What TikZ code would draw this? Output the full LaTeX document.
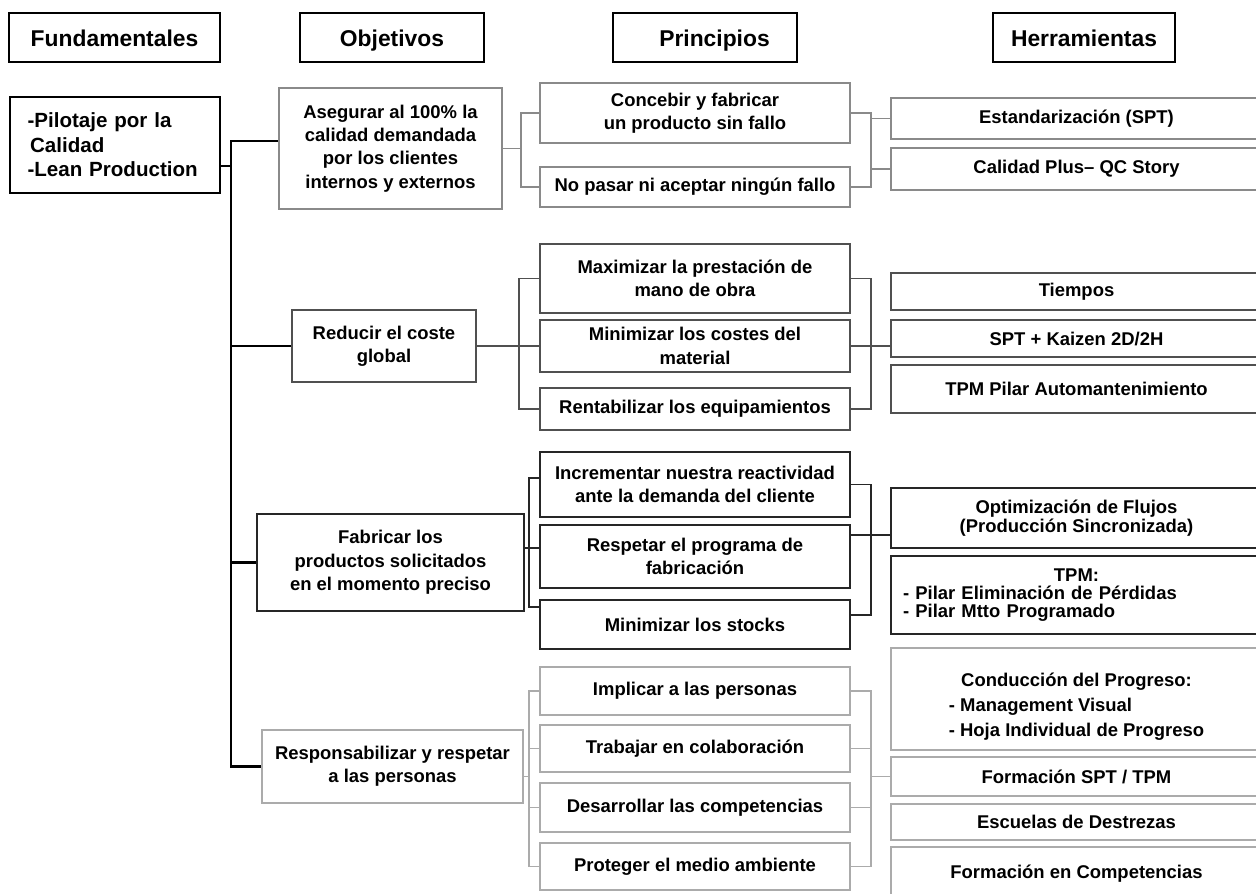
\documentclass[tikz,border=0pt]{standalone}
\usepackage{fontspec}
\setmainfont{Liberation Sans}
\definecolor{grisA}{HTML}{8A8A8A}
\definecolor{grisB}{HTML}{505050}
\definecolor{grisC}{HTML}{262626}
\definecolor{grisD}{HTML}{ABABAB}
\tikzset{
  titulo/.style={draw=black,line width=1.5pt,inner sep=0pt,minimum height=0.98cm,text height=11.5pt,text depth=1.5pt,
                 font=\fontsize{13}{15}\selectfont\bfseries},
  caja/.style={draw,line width=1.1pt,align=center,inner sep=0pt,font=\fontsize{10.5}{13.3}\selectfont\bfseries},
  objetivo/.style={caja},
  principio/.style={caja,minimum width=6.2cm},
  herram/.style={caja,minimum width=7.42cm},
  enlace/.style={line width=1.1pt},
  tronco/.style={black,line width=1.4pt},
}
\begin{document}
\begin{tikzpicture}[x=0.02cm,y=-0.02cm]
  \useasboundingbox (0,0) rectangle (1256,893);
  % encabezados
  \node[titulo,minimum width=4.22cm] (hFund) at (114.5,37.5) {Fundamentales};
  \node[titulo,minimum width=3.68cm] (hObj) at (392,37.5) {Objetivos};
  \node[titulo,minimum width=3.68cm] (hPrin) at (705,37.5) {\hspace*{0.38cm}Principios};
  \node[titulo,minimum width=3.64cm] (hHerr) at (1084,37.5) {Herramientas};
  % fundamentales
  \node[caja,draw=black,line width=1.4pt,minimum width=4.2cm,minimum height=1.92cm,text width=3.5cm,align=left,
        font=\fontsize{11.7}{13.9}\selectfont\bfseries] (fund) at (115,145)
        {-Pilotaje por la\\\hspace*{1.5pt}Calidad\\-Lean Production};
  % objetivos
  \node[objetivo,draw=grisA,minimum width=4.46cm,minimum height=2.42cm] (oAseg) at (390.5,148.5)
        {Asegurar al 100\% la\\calidad demandada\\por los clientes\\internos y externos};
  \node[objetivo,draw=grisB,minimum width=3.68cm,minimum height=1.44cm] (oRed) at (384,346)
        {Reducir el coste\\global};
  \node[objetivo,draw=grisC,minimum width=5.34cm,minimum height=1.94cm] (oFab) at (390.5,562.5)
        {Fabricar los\\productos solicitados\\en el momento preciso};
  \node[objetivo,draw=grisD,minimum width=5.22cm,minimum height=1.46cm] (oResp) at (392.5,766.5)
        {Responsabilizar y respetar\\a las personas};
  % principios
  \node[principio,draw=grisA,minimum height=1.2cm] (pCon) at (695,113) {Concebir y fabricar\\un producto sin fallo};
  \node[principio,draw=grisA,minimum height=0.8cm] (pNoP) at (695,187) {No pasar ni aceptar ningún fallo};
  \node[principio,draw=grisB,minimum height=1.38cm] (pMax) at (695,278.5) {Maximizar la prestación de\\mano de obra};
  \node[principio,draw=grisB,minimum height=1.04cm] (pMinC) at (695,346) {Minimizar los costes del\\material};
  \node[principio,draw=grisB,minimum height=0.84cm] (pRent) at (695,409) {Rentabilizar los equipamientos};
  \node[principio,draw=grisC,minimum height=1.3cm] (pInc) at (695,484.5) {Incrementar nuestra reactividad\\ante la demanda del cliente};
  \node[principio,draw=grisC,minimum height=1.26cm] (pResp) at (695,556.5) {Respetar el programa de\\fabricación};
  \node[principio,draw=grisC,minimum height=0.98cm] (pStk) at (695,624.5) {Minimizar los stocks};
  \node[principio,draw=grisD,minimum height=0.96cm] (pImp) at (695,691) {Implicar a las personas};
  \node[principio,draw=grisD,minimum height=0.94cm] (pTrab) at (695,748.5) {Trabajar en colaboración};
  \node[principio,draw=grisD,minimum height=0.98cm] (pDes) at (695,807.5) {Desarrollar las competencias};
  \node[principio,draw=grisD,minimum height=0.94cm] (pProt) at (695,866.5) {Proteger el medio ambiente};
  % herramientas
  \node[herram,draw=grisA,minimum height=0.82cm] (tEst) at (1076.5,118.5) {Estandarización (SPT)};
  \node[herram,draw=grisA,minimum height=0.84cm] (tCal) at (1076.5,169) {Calidad Plus– QC Story};
  \node[herram,draw=grisB,minimum height=0.74cm] (tTie) at (1076.5,291.5) {Tiempos};
  \node[herram,draw=grisB,minimum height=0.74cm] (tSPT) at (1076.5,338.5) {SPT + Kaizen 2D/2H};
  \node[herram,draw=grisB,minimum height=0.96cm] (tAuto) at (1076.5,389) {TPM Pilar Automantenimiento};
  \node[herram,draw=grisC,minimum height=1.2cm,font=\fontsize{10.5}{10.4}\selectfont\bfseries] (tOpt) at (1076.5,518)
        {Optimización de Flujos\\(Producción Sincronizada)};
  \node[herram,draw=grisC,minimum height=1.56cm,text width=6.94cm,align=left,
        font=\fontsize{10.5}{10.4}\selectfont\bfseries] (tTPM) at (1076.5,595)
        {\makebox[\linewidth]{TPM:}\\- Pilar Eliminación de Pérdidas\\- Pilar Mtto Programado};
  \node[herram,draw=grisD,minimum height=2.04cm,font=\fontsize{10.5}{14.2}\selectfont\bfseries] (tCond) at (1076.5,699)
        {\rule{0pt}{33pt}\begin{tabular}{@{}l@{}}\multicolumn{1}{c}{Conducción del Progreso:}\\- Management Visual\\- Hoja Individual de Progreso\end{tabular}};
  \node[herram,draw=grisD,minimum height=0.78cm] (tForm) at (1076.5,776.5) {Formación SPT / TPM};
  \node[herram,draw=grisD,minimum height=0.72cm] (tEsc) at (1076.5,822) {Escuelas de Destrezas};
  \node[herram,draw=grisD,minimum height=1.06cm] (tComp) at (1076.5,873.5) {Formación en Competencias};
  % ejes de conexion
  \coordinate (tr) at (231,0);
  \coordinate (bI1) at (521,0);
  \coordinate (bI2) at (519,0);
  \coordinate (bI3) at (529,0);
  \coordinate (bD) at (871,0);
  % tronco
  \draw[tronco] ([yshift=.15cm]oAseg.west) -- ([yshift=.15cm]oAseg.west -| tr) -- (oResp.west -| tr) -- (oResp.west);
  \draw[tronco] ([yshift=-.42cm]fund.east) -- ([yshift=-.42cm]fund.east -| tr);
  \draw[tronco] (oRed.west -| tr) -- (oRed.west);
  \draw[tronco] (oFab.west -| tr) -- (oFab.west);
  % grupo 1
  \draw[enlace,grisA] (oAseg.east) -- (oAseg.east -| bI1);
  \draw[enlace,grisA] (pCon.west) -- (pCon.west -| bI1) -- (pNoP.west -| bI1) -- (pNoP.west);
  \draw[enlace,grisA] (pCon.east) -- (pCon.east -| bD) -- (pNoP.east -| bD) -- (pNoP.east);
  \draw[enlace,grisA] (tEst.west -| bD) -- (tEst.west);
  \draw[enlace,grisA] (tCal.west -| bD) -- (tCal.west);
  % grupo 2
  \draw[enlace,grisB] (oRed.east) -- (pMinC.west);
  \draw[enlace,grisB] (pMax.west) -- (pMax.west -| bI2) -- (pRent.west -| bI2) -- (pRent.west);
  \draw[enlace,grisB] (pMax.east) -- (pMax.east -| bD) -- (pRent.east -| bD) -- (pRent.east);
  \draw[enlace,grisB] (pMinC.east) -- (pMinC.east -| tSPT.west);
  % grupo 3
  \draw[enlace,grisC] ([yshift=.29cm]oFab.east) -- ([yshift=.29cm]oFab.east -| pResp.west);
  \draw[enlace,grisC] ([yshift=.13cm]pInc.west) -- ([yshift=.13cm]pInc.west -| bI3) -- ([yshift=.35cm]pStk.west -| bI3) -- ([yshift=.35cm]pStk.west);
  \draw[enlace,grisC] (pInc.east) -- (pInc.east -| bD) -- ([yshift=.19cm]pStk.east -| bD) -- ([yshift=.19cm]pStk.east);
  \draw[enlace,grisC] ([yshift=.43cm]pResp.east) -- ([yshift=.43cm]pResp.east -| tOpt.west);
  % grupo 4
  \draw[enlace,grisD] ([yshift=-.2cm]oResp.east) -- ([yshift=-.2cm]oResp.east -| bI3);
  \draw[enlace,grisD] (pImp.west) -- (pImp.west -| bI3) -- (pProt.west -| bI3) -- (pProt.west);
  \draw[enlace,grisD] (pTrab.west -| bI3) -- (pTrab.west);
  \draw[enlace,grisD] (pDes.west -| bI3) -- (pDes.west);
  \draw[enlace,grisD] (pImp.east) -- (pImp.east -| bD) -- (pProt.east -| bD) -- (pProt.east);
  \draw[enlace,grisD] (pTrab.east) -- (pTrab.east -| bD);
  \draw[enlace,grisD] (pDes.east) -- (pDes.east -| bD);
  \draw[enlace,grisD] (tForm.west -| bD) -- (tForm.west);
\end{tikzpicture}
\end{document}
